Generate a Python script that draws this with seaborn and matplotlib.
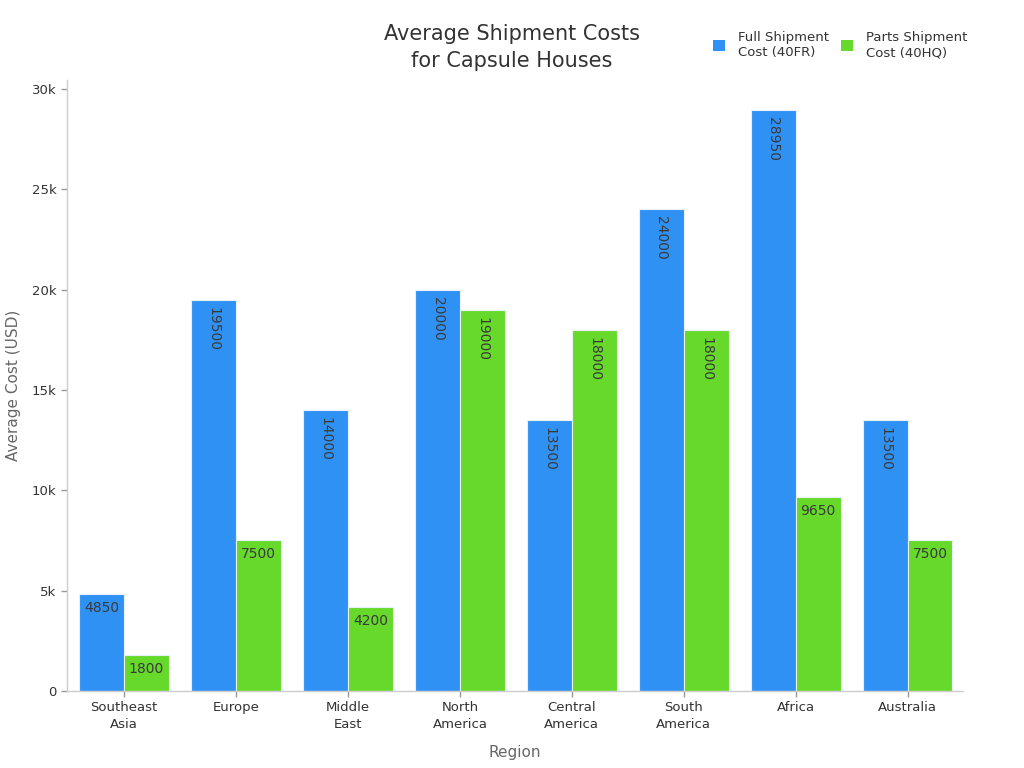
import matplotlib.pyplot as plt
import pandas as pd
import seaborn as sns

regions = ["Southeast\nAsia", "Europe", "Middle\nEast", "North\nAmerica",
           "Central\nAmerica", "South\nAmerica", "Africa", "Australia"]
full_cost = [4850, 19500, 14000, 20000, 13500, 24000, 28950, 13500]
parts_cost = [1800, 7500, 4200, 19000, 18000, 18000, 9650, 7500]
series = ["Full Shipment\nCost (40FR)", "Parts Shipment\nCost (40HQ)"]
colors = ["#3091F5", "#66D92A"]

df = pd.DataFrame({
    "Region": regions * 2,
    "Cost": full_cost + parts_cost,
    "Series": [series[0]] * len(regions) + [series[1]] * len(regions),
})

sns.set_style("white")
plt.rcParams["font.family"] = ["DejaVu Sans"]

fig = plt.figure(figsize=(10.24, 7.68), dpi=100)
ax = fig.add_axes([0.0654, 0.1003, 0.8746, 0.7957])

sns.barplot(data=df, x="Region", y="Cost", hue="Series", palette=colors,
            width=0.8, saturation=1, edgecolor="#e8f0f8", linewidth=0.8, ax=ax)

# value labels inside the top of each bar
for container in ax.containers:
    for bar in container:
        h = bar.get_height()
        xc = bar.get_x() + bar.get_width() / 2
        txt = f"{int(h)}"
        if len(txt) >= 5:
            ax.text(xc, h - 350, txt, rotation=-90, ha="center", va="top",
                    fontsize=10, color="#3a3a3a")
        else:
            ax.text(xc, h - 350, txt, ha="center", va="top",
                    fontsize=10, color="#3a3a3a")

ax.set_xlim(-0.51, 7.49)
ax.set_ylim(0, 30450)
ax.set_yticks([0, 5000, 10000, 15000, 20000, 25000, 30000])
ax.set_yticklabels(["0", "5k", "10k", "15k", "20k", "25k", "30k"])
ax.tick_params(axis="both", labelsize=9.5, colors="#333333", length=4,
               color="#999999", width=1, bottom=True, left=True)
for lbl in ax.get_xticklabels():
    lbl.set_linespacing(1.4)
ax.set_xlabel("Region", fontsize=11, color="#666666", labelpad=10)
ax.set_ylabel("Average Cost (USD)", fontsize=11, color="#666666", labelpad=8)

for side in ["top", "right"]:
    ax.spines[side].set_visible(False)
for side in ["left", "bottom"]:
    ax.spines[side].set_color("#cccccc")
    ax.spines[side].set_linewidth(1)

fig.suptitle("Average Shipment Costs\nfor Capsule Houses", x=0.5, y=0.969,
             fontsize=15, color="#333333", linespacing=1.45)

ax.legend(loc="upper left", bbox_to_anchor=(0.685, 0.975), bbox_transform=fig.transFigure,
          ncol=2, frameon=False, fontsize=9.5, handlelength=0.9, handleheight=0.9,
          columnspacing=0.9, handletextpad=1.0, labelcolor="#333333")
for h in ax.get_legend().legend_handles:
    h.set_edgecolor("none")

fig.savefig("out.png", dpi=100)
